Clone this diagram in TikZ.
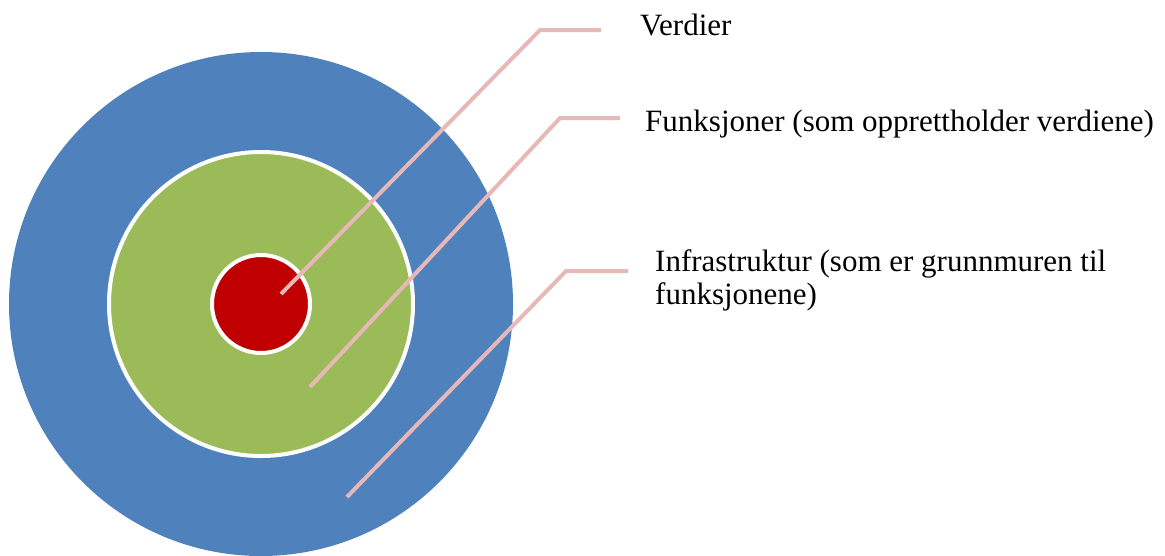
\documentclass[tikz,border=0pt]{standalone}
\usepackage{fontspec}
\setmainfont{Liberation Serif}
\definecolor{ringblue}{HTML}{4F81BD}
\definecolor{ringgreen}{HTML}{9BBB59}
\definecolor{ringred}{HTML}{C00000}
\definecolor{leader}{HTML}{E6B9B8}
\tikzset{
  leaderline/.style={draw=leader, line width=4pt},
  ringlabel/.style={anchor=base west, inner sep=0pt, font=\fontsize{31}{33}\selectfont, align=left}
}
\begin{document}
\begin{tikzpicture}[x=1pt, y=-1pt]
\useasboundingbox (0, 0) rectangle (1165, 555);
\fill[ringblue] (261, 304) circle (252);
\draw[fill=ringgreen, draw=white, line width=4pt] (261, 304) circle (152);
\draw[fill=ringred, draw=white, line width=4pt] (261, 304) circle (49);
\coordinate (verdierin) at (281, 294);
\coordinate (verdierknee) at (540, 30);
\coordinate (verdierout) at (601, 30);
\coordinate (funkin) at (310, 387);
\coordinate (funkknee) at (560, 118);
\coordinate (funkout) at (620, 118);
\coordinate (infrain) at (347, 497);
\coordinate (infraknee) at (566, 271);
\coordinate (infraout) at (628, 271);
\draw[leaderline] (verdierin) -- (verdierknee) -- (verdierout);
\draw[leaderline] (funkin) -- (funkknee) -- (funkout);
\draw[leaderline] (infrain) -- (infraknee) -- (infraout);
\node[ringlabel] (verdier) at (640, 35) {Verdier};
\node[ringlabel] (funksjoner) at (645, 131) {Funksjoner (som opprettholder verdiene)};
\node[ringlabel] (infrastruktur) at (655, 304) {Infrastruktur (som er grunnmuren til\\funksjonene)};
\end{tikzpicture}
\end{document}
